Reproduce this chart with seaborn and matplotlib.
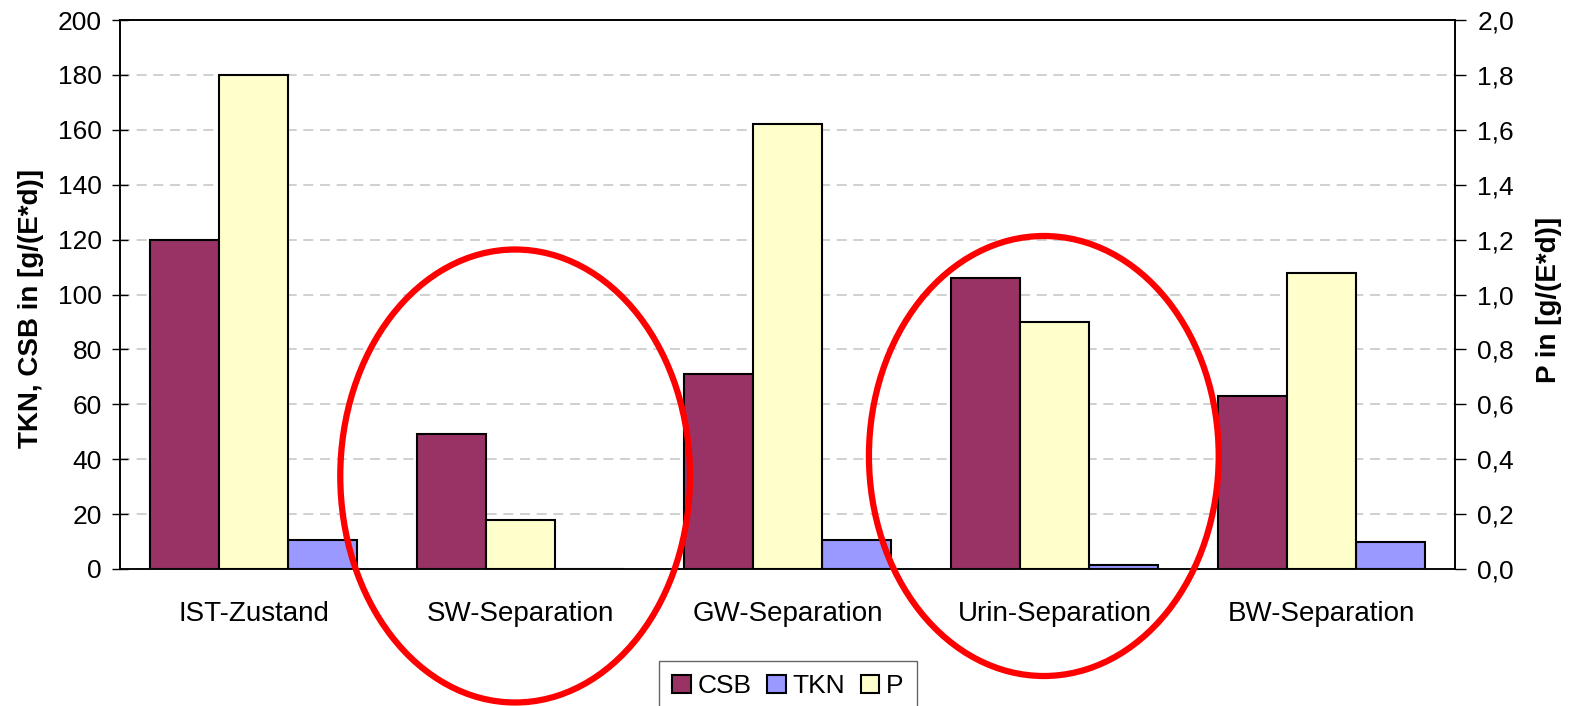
import numpy as np
import pandas as pd
import matplotlib
matplotlib.use("Agg")
import matplotlib.pyplot as plt
import matplotlib.transforms as mtransforms
from matplotlib.patches import Ellipse, Patch
from matplotlib.ticker import FuncFormatter
import seaborn as sns

# data
categories = ["IST-Zustand", "SW-Separation", "GW-Separation", "Urin-Separation", "BW-Separation"]
csb = [120, 49, 71, 106, 63]
tkn = [10.5, 0, 10.6, 1.3, 10]
p = [1.80, 0.18, 1.62, 0.90, 1.08]

colors = {"CSB": "#993366", "P": "#FFFFCC", "TKN": "#9999FF"}
hue_order = ["CSB", "P", "TKN"]

left_df = pd.DataFrame({
    "cat": categories * 2,
    "var": ["CSB"] * 5 + ["TKN"] * 5,
    "val": csb + tkn,
})
right_df = pd.DataFrame({"cat": categories, "var": ["P"] * 5, "val": p})

sns.set_style("white")
plt.rcParams["font.family"] = ["Liberation Sans", "DejaVu Sans"]
plt.rcParams.update({"text.color": "black", "axes.labelcolor": "black",
                     "xtick.color": "black", "ytick.color": "black"})

fig = plt.figure(figsize=(15.73, 7.06), dpi=100)
ax = fig.add_axes([120 / 1573, 1 - 569 / 706, (1455 - 120) / 1573, (569 - 20) / 706])
ax2 = ax.twinx()

bar_kw = dict(edgecolor="black", linewidth=1.5, width=0.775, errorbar=None, legend=False,
              palette=colors, hue_order=hue_order, order=categories, dodge=True, saturation=1)
sns.barplot(data=left_df, x="cat", y="val", hue="var", ax=ax, **bar_kw)
sns.barplot(data=right_df, x="cat", y="val", hue="var", ax=ax2, **bar_kw)

ax.set_xlim(-0.5, 4.5)
ax.set_ylim(0, 200)
ax2.set_ylim(0, 2.0)
ax.set_yticks(np.arange(0, 201, 20))
ax2.set_yticks(np.arange(0, 2.01, 0.2))
ax2.yaxis.set_major_formatter(FuncFormatter(lambda v, _: f"{v:.1f}".replace(".", ",")))

ax.set_xticks(range(len(categories)))
ax.set_xticklabels(categories, fontsize=20)
ax.set_xticks(np.arange(-0.5, 5, 1), minor=True)
ax.tick_params(axis="x", which="major", length=0, pad=23)
ax.tick_params(axis="x", which="minor", direction="inout", length=16, width=1, color="#404040")
ax.tick_params(axis="y", direction="inout", length=12, width=1, labelsize=19, pad=7, left=True)
ax2.tick_params(axis="y", direction="out", length=8, width=1, labelsize=19, pad=8, right=True)

ax.set_xlabel("")
ax.set_ylabel("TKN, CSB in [g/(E*d)]", fontsize=20, fontweight="bold")
ax.yaxis.set_label_coords(-0.057, 0.475)
ax2.set_xlabel("")
ax2.set_ylabel("P in [g/(E*d)]", fontsize=20, fontweight="bold")
ax2.yaxis.set_label_coords(1.061, 0.49)

ax.set_axisbelow(True)
ax.yaxis.grid(True, linestyle=(0, (6, 4)), color="#c8c8c8", linewidth=1.2)
for a in (ax, ax2):
    for s in a.spines.values():
        s.set_visible(True)
        s.set_color("black")
        s.set_linewidth(1.2)
ax.spines["bottom"].set_color("#404040")

# red ellipses highlighting two scenarios
trans = mtransforms.blended_transform_factory(ax.transData, fig.transFigure)
for cx, cy, h in [(0.98, 1 - 476 / 706, 453 / 706), (2.96, 1 - 456 / 706, 440 / 706)]:
    e = Ellipse((cx, cy), width=1.31, height=h, transform=trans, fill=False,
                edgecolor="#ff0000", linewidth=4.5, clip_on=False, zorder=10)
    fig.add_artist(e)

handles = [Patch(facecolor=colors[k], edgecolor="black", linewidth=1.5) for k in ["CSB", "TKN", "P"]]
leg = fig.legend(handles, ["CSB", "TKN", "P"], loc="lower center", bbox_to_anchor=(788 / 1573, -0.008),
                 ncol=3, fontsize=19, frameon=True, fancybox=False, edgecolor="#404040",
                 handlelength=0.7, handleheight=0.7, handletextpad=0.25, columnspacing=0.6,
                 borderpad=0.5, borderaxespad=0)
leg.get_frame().set_linewidth(1)

fig.savefig("out.png", dpi=100)
